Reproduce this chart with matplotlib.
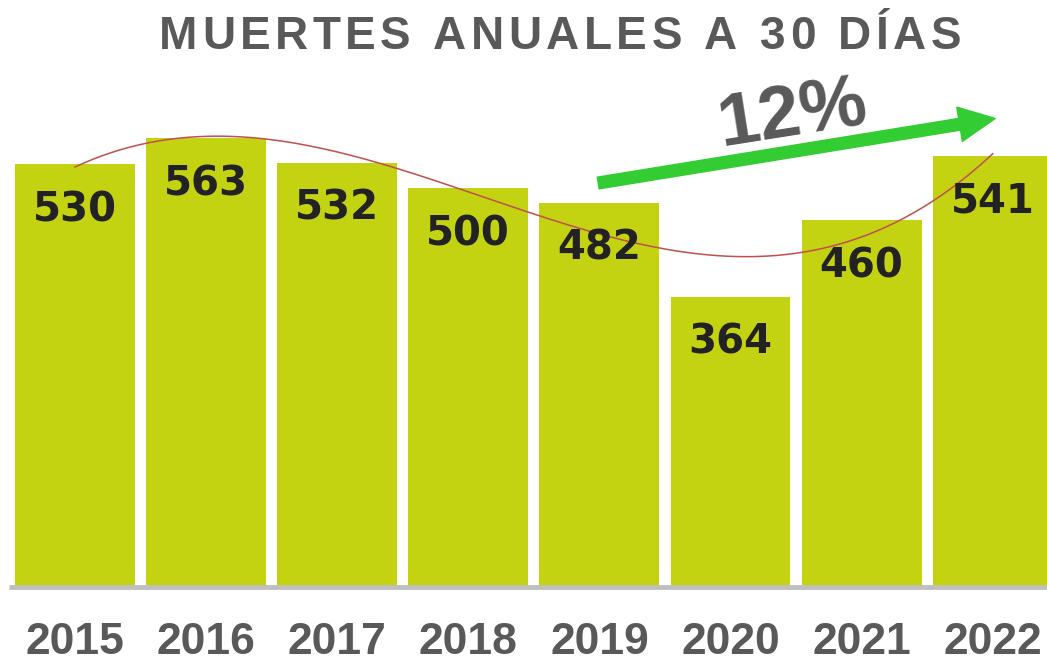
import numpy as np
import matplotlib.pyplot as plt
from matplotlib.patches import FancyArrowPatch

years = ['2015', '2016', '2017', '2018', '2019', '2020', '2021', '2022']
deaths = [530, 563, 532, 500, 482, 364, 460, 541]
title = 'MUERTES ANUALES A 30 DÍAS'
growth_label = '12%'

x = np.arange(len(years))

fig = plt.figure(figsize=(10.47, 6.64), dpi=100)
ax = fig.add_axes([0, (664 - 587) / 664, 1, 587 / 664])

ax.bar(x, deaths, width=0.915, color='#C3D312', zorder=2)

# data labels inside the bars, near the top
for xi, v in zip(x, deaths):
    ax.text(xi, v - 58, str(v), ha='center', va='center', fontsize=29,
            fontweight='bold', color='#222222', family='DejaVu Sans', zorder=4)

# polynomial trend line (order 3) through the data
coef = np.polyfit(x, deaths, 3)
xs = np.linspace(0, len(years) - 1, 200)
ax.plot(xs, np.polyval(coef, xs), color='#C0504D', lw=1.1, zorder=3)

# baseline
ax.plot([-0.5, 7.5], [0, 0], color='#BFBFBF', lw=3.5, zorder=3, clip_on=False,
        solid_capstyle='butt')

ax.set_xlim(-0.572, 7.414)
ax.set_ylim(0, 736)
ax.axis('off')

# year labels below the axis
for xi, yr in zip(x, years):
    ax.text(xi, -69, yr, ha='center', va='center', fontsize=32,
            fontweight='bold', color='#595959', family='Liberation Sans',
            clip_on=False)

# green growth arrow and percentage
arrow = FancyArrowPatch((3.97, 506), (7.04, 588),
                        arrowstyle='simple,tail_width=0.85,head_width=2.5,head_length=2.6',
                        mutation_scale=10, color='#33CC33', zorder=5)
ax.add_patch(arrow)
ax.text(5.47, 592, growth_label, ha='center', va='center',
        fontsize=54, fontweight='bold', color='#595959', rotation=9,
        family='Liberation Sans', zorder=5)

# title with letter spacing
fig.canvas.draw()
renderer = fig.canvas.get_renderer()
spacing = 4.5
widths = []
for ch in title:
    t = fig.text(0, 0, ch if ch != ' ' else 'M', fontsize=33, fontweight='bold',
                 family='Liberation Sans', color='#595959')
    w = t.get_window_extent(renderer).width
    if ch == ' ':
        w = w * 0.35
    t.remove()
    widths.append(w)
total = sum(widths) + spacing * (len(title) - 1)
cx = 560 - total / 2
for ch, w in zip(title, widths):
    if ch != ' ':
        fig.text(cx / 1047, 1 - 37 / 664, ch, ha='left', va='center', fontsize=33,
                 fontweight='bold', family='Liberation Sans', color='#595959')
    cx += w + spacing

fig.savefig('out.png', dpi=100)
